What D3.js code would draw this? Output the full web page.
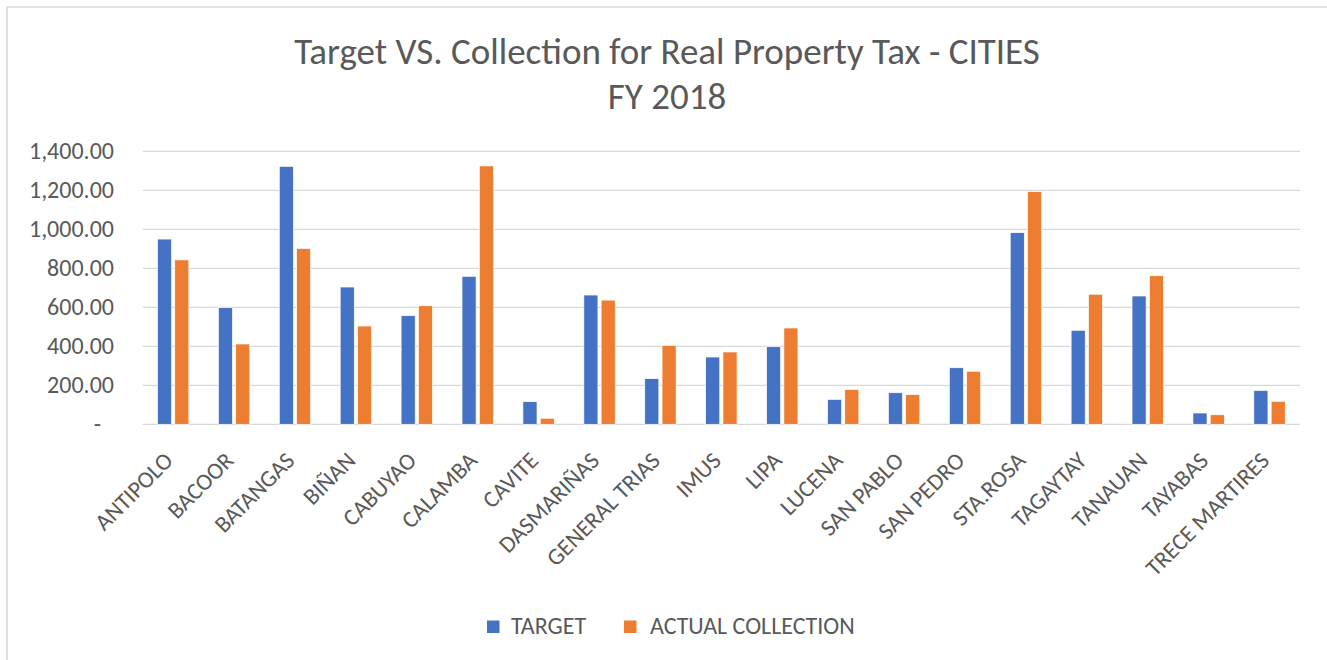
<!DOCTYPE html>
<html>
<head>
<meta charset="utf-8">
<script src="https://cdn.jsdelivr.net/npm/d3@7"></script>
<style>
  body { margin: 0; background: #fff; }
  text { font-family: Carlito, "Open Sans", sans-serif; fill: #595959; }
</style>
</head>
<body>
<div id="chart"></div>
<script>
// values (millions)
let cities = ["ANTIPOLO", "BACOOR", "BATANGAS", "BIÑAN", "CABUYAO", "CALAMBA", "CAVITE",
  "DASMARIÑAS", "GENERAL TRIAS", "IMUS", "LIPA", "LUCENA", "SAN PABLO", "SAN PEDRO",
  "STA.ROSA", "TAGAYTAY", "TANAUAN", "TAYABAS", "TRECE MARTIRES"];
let target = [950, 598, 1323, 704, 557, 759, 116, 663, 234, 345, 398, 128, 162, 290, 983, 482, 658, 58, 174];
let actual = [843, 412, 902, 504, 608, 1325, 31, 637, 405, 371, 494, 179, 152, 272, 1193, 667, 762, 49, 118];
let seriesNames = ["TARGET", "ACTUAL COLLECTION"];
let seriesColors = ["#4472c4", "#ed7d31"];
let yTicks = [0, 200, 400, 600, 800, 1000, 1200, 1400];

let width = 1327;
let height = 660;
let plotLeft = 142.7, plotRight = 1300, plotTop = 151.3, plotBottom = 424.3;

let svg = d3.select("#chart")
  .append("svg")
  .attr("width", width)
  .attr("height", height);

// chart frame (only left and top edges are visible in the crop)
svg.append("line").attr("x1", 7).attr("x2", width).attr("y1", 7).attr("y2", 7)
  .attr("stroke", "#d9d9d9").attr("stroke-width", 1.6);
svg.append("line").attr("x1", 7).attr("x2", 7).attr("y1", 7).attr("y2", height)
  .attr("stroke", "#d9d9d9").attr("stroke-width", 1.6);

// title
svg.append("text")
  .attr("x", 667).attr("y", 64)
  .attr("text-anchor", "middle")
  .style("font-size", "37px")
  .text("Target VS. Collection for Real Property Tax - CITIES");
svg.append("text")
  .attr("x", 667).attr("y", 109)
  .attr("text-anchor", "middle")
  .style("font-size", "37px")
  .text("FY 2018");

let x0 = d3.scaleBand().domain(cities).range([plotLeft, plotRight]).padding(0);
let x1 = d3.scaleBand().domain(seriesNames)
  .range([x0.bandwidth() / 2 - 15.7, x0.bandwidth() / 2 + 15.7])
  .paddingInner(0.185).paddingOuter(0);
let y = d3.scaleLinear().domain([0, 1400]).range([plotBottom, plotTop]);

// gridlines
svg.append("g")
  .selectAll("line")
  .data(yTicks)
  .enter().append("line")
  .attr("x1", plotLeft).attr("x2", plotRight)
  .attr("y1", d => y(d)).attr("y2", d => y(d))
  .attr("stroke", "#d9d9d9")
  .attr("stroke-width", 1.3);

// y axis labels
let fmt = d3.format(",.2f");
svg.append("g")
  .selectAll("text")
  .data(yTicks)
  .enter().append("text")
  .attr("x", d => d === 0 ? 101 : 114)
  .attr("y", d => y(d))
  .attr("dy", "0.34em")
  .attr("text-anchor", "end")
  .style("font-size", "24px")
  .text(d => d === 0 ? "-" : fmt(d));

// bars
let rows = cities.map((c, i) => ({ city: c, values: [
  { key: seriesNames[0], value: target[i], color: seriesColors[0] },
  { key: seriesNames[1], value: actual[i], color: seriesColors[1] }
] }));

let groups = svg.append("g")
  .selectAll("g")
  .data(rows)
  .enter().append("g")
  .attr("transform", d => "translate(" + x0(d.city) + ",0)");

groups.selectAll("rect")
  .data(d => d.values)
  .enter().append("rect")
  .attr("x", d => x1(d.key))
  .attr("y", d => y(d.value))
  .attr("width", x1.bandwidth())
  .attr("height", d => y(0) - y(d.value))
  .attr("fill", d => d.color)
  .attr("stroke", "#fff")
  .attr("stroke-width", 0.7);

// category labels, rotated
svg.append("g")
  .selectAll("text")
  .data(cities)
  .enter().append("text")
  .attr("transform", d => "translate(" + (x0(d) + x0.bandwidth() / 2 + 1) + "," + 462 + ") rotate(-45)")
  .attr("text-anchor", "end")
  .style("font-size", "23.5px")
  .text(d => d);

// legend
let legend = svg.append("g");
let legendX = [487, 624];
let legendTextX = [511, 650];
seriesNames.forEach((name, i) => {
  legend.append("rect")
    .attr("x", legendX[i]).attr("y", 620.5)
    .attr("width", 12.5).attr("height", 12.5)
    .attr("fill", seriesColors[i]);
  legend.append("text")
    .attr("x", legendTextX[i]).attr("y", 634)
    .style("font-size", "24px")
    .text(name);
});
</script>
</body>
</html>
